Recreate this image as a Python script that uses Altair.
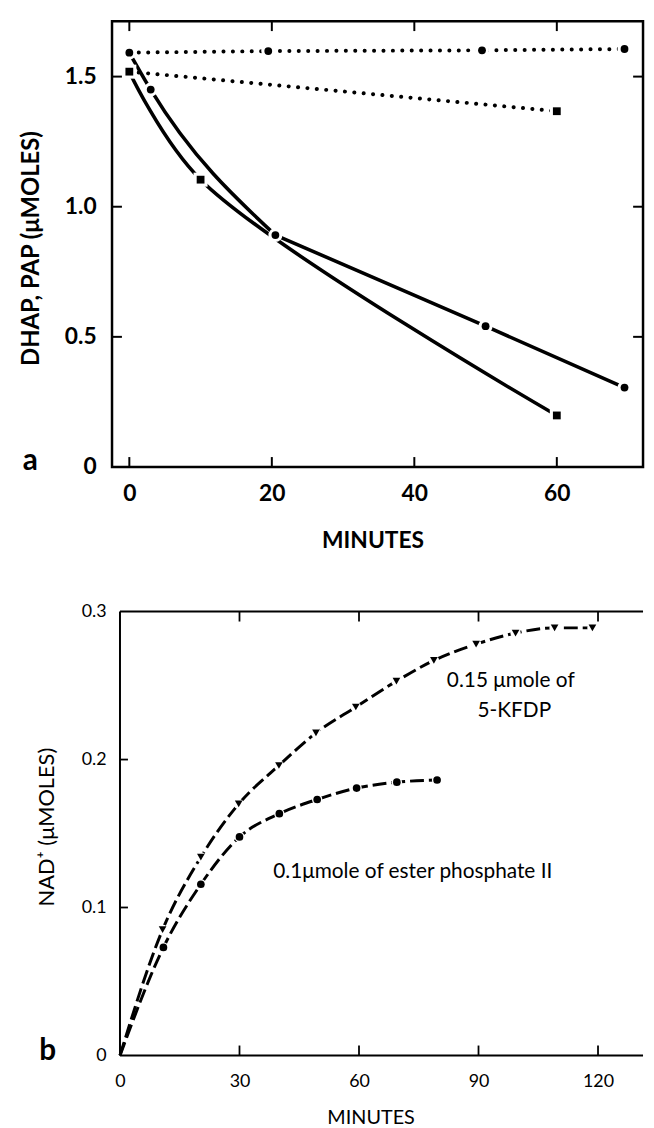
import altair as alt
import pandas as pd

# ---------------- Panel a data ----------------
a_dot_circle_min = [0, 19.5, 49.5, 69.5]
a_dot_circle_val = [1.592, 1.598, 1.601, 1.606]
a_dot_square_min = [0, 60]
a_dot_square_val = [1.519, 1.367]
a_solid_circle_min = [0, 3, 20.5, 50, 69.5]
a_solid_circle_val = [1.592, 1.450, 0.891, 0.541, 0.305]
a_solid_square_min = [0, 10, 60]
a_solid_square_val = [1.519, 1.104, 0.198]
a_x_ticks = [0, 20, 40, 60]
a_y_ticks = [0, 0.5, 1.0, 1.5]

# ---------------- Panel b data ----------------
b_kfdp_min = [0, 10.7, 20.3, 29.8, 39.9, 49.2, 59.2, 69.4, 78.8, 89.4, 99.3, 109.1, 118.6]
b_kfdp_val = [0, 0.085, 0.134, 0.170, 0.196, 0.218, 0.2355, 0.253, 0.267, 0.278, 0.2855, 0.289, 0.289]
b_ester_min = [0, 10.9, 20.3, 30.0, 40.0, 49.5, 59.4, 69.5, 79.6]
b_ester_val = [0, 0.073, 0.1157, 0.1477, 0.1634, 0.173, 0.1807, 0.1847, 0.1862]
b_x_ticks = [0, 30, 60, 90, 120]
b_y_ticks = [0, 0.1, 0.2, 0.3]

# ---------------- Texts ----------------
x_title = "MINUTES"
a_y_title = "DHAP, PAP (\u03bcMOLES)"
b_y_title = "NAD\u207a  (\u03bcMOLES)"
b_note_texts = ["0.15 \u03bcmole  of", "5-KFDP", "0.1\u03bcmole of ester phosphate  II"]
b_note_min = [98.1, 99.0, 73.5]
b_note_val = [0.253, 0.233, 0.124]

# ---------------- Layout ----------------
W = 536
HA = 450
HB = 448
A_XDOM = [-2.43, 72.1]
A_YDOM = [0, 1.713]
B_XDOM = [-2.0, 131.3]
B_YDOM = [0, 0.3]
FONT = "Lato"


def series(mins, vals, name, marker, style):
    return pd.DataFrame({"minutes": mins, "value": vals, "series": name,
                         "marker": marker, "style": style})


shape_enc = alt.Shape("marker:N", scale=alt.Scale(domain=["circle", "square", "triangle-down"],
                                                   range=["circle", "square", "triangle-down"]),
                      legend=None)

# ================= Panel a =================
df_a = pd.concat([
    series(a_dot_circle_min, a_dot_circle_val, "dc", "circle", "dotted"),
    series(a_dot_square_min, a_dot_square_val, "ds", "square", "dotted"),
    series(a_solid_circle_min, a_solid_circle_val, "sc", "circle", "solid"),
    series(a_solid_square_min, a_solid_square_val, "ss", "square", "solid"),
], ignore_index=True)
df_a_pts = df_a[["minutes", "value", "marker"]].drop_duplicates()

ax_scale = alt.Scale(domain=A_XDOM, nice=False, zero=False)
ay_scale = alt.Scale(domain=A_YDOM, nice=False, zero=False)

xa = alt.X("minutes:Q", scale=ax_scale, title=x_title, axis=alt.Axis(
    values=a_x_ticks, title=x_title, ticks=False, domain=False, grid=False,
    labelFont=FONT, labelFontSize=23, labelFontWeight="bold", labelColor="black",
    labelPadding=16, titleFont=FONT, titleFontSize=23, titleFontWeight="bold",
    titleColor="black", titleX=263, titleY=81, titleAlign="center",
    titleBaseline="alphabetic"))
ya = alt.Y("value:Q", scale=ay_scale, title=a_y_title, axis=alt.Axis(
    values=a_y_ticks, title=a_y_title, ticks=False, domain=False, grid=False,
    labelExpr="datum.value == 0 ? '0' : format(datum.value, '.1f')",
    labelFont=FONT, labelFontSize=23, labelFontWeight="bold", labelColor="black",
    labelPadding=16, titleFont=FONT, titleFontSize=24, titleFontWeight="bold",
    titleColor="black", titleX=-81, titleY=229, titleAngle=270,
    titleAlign="center", titleBaseline="middle"))
xa_n = alt.X("minutes:Q", scale=ax_scale, title=x_title)
ya_n = alt.Y("value:Q", scale=ay_scale, title=a_y_title)

a_dotted = alt.Chart(df_a).transform_filter("datum.style == 'dotted'").mark_line(
    color="black", strokeWidth=4, strokeDash=[0.1, 9.4], strokeCap="round"
).encode(x=xa, y=ya, detail="series:N")
# upper solid curve: curved start, straight after the 20-min point
a_solid_c1 = alt.Chart(df_a).transform_filter(
    "datum.series == 'sc' && datum.minutes <= 20.5").mark_line(
    color="black", strokeWidth=3.6, interpolate="monotone").encode(x=xa_n, y=ya_n)
a_solid_c2 = alt.Chart(df_a).transform_filter(
    "datum.series == 'sc' && datum.minutes >= 20.5").mark_line(
    color="black", strokeWidth=3.6).encode(x=xa_n, y=ya_n)
a_solid_s = alt.Chart(df_a).transform_filter("datum.series == 'ss'").mark_line(
    color="black", strokeWidth=3.6, interpolate="catmull-rom").encode(x=xa_n, y=ya_n)
a_halo = alt.Chart(df_a_pts).mark_point(filled=True, color="white", opacity=1, size=200).encode(
    x=xa_n, y=ya_n, shape=shape_enc)
a_marks = alt.Chart(df_a_pts).mark_point(filled=True, color="black", opacity=1, size=62).encode(
    x=xa_n, y=ya_n, shape=shape_enc)

axt = pd.DataFrame({"t": a_x_ticks})
ayt = pd.DataFrame({"t": [v for v in a_y_ticks if v > 0]})
axt_enc = alt.X("t:Q", scale=ax_scale, title=x_title)
ayt_enc = alt.Y("t:Q", scale=ay_scale, title=a_y_title)
a_tick_b = alt.Chart(axt).mark_rule(color="black", strokeWidth=2).encode(
    x=axt_enc, y=alt.value(HA), y2=alt.value(HA - 10))
a_tick_t = alt.Chart(axt).mark_rule(color="black", strokeWidth=2).encode(
    x=axt_enc, y=alt.value(0), y2=alt.value(10))
a_tick_l = alt.Chart(ayt).mark_rule(color="black", strokeWidth=2).encode(
    y=ayt_enc, x=alt.value(0), x2=alt.value(10))
a_tick_r = alt.Chart(ayt).mark_rule(color="black", strokeWidth=2).encode(
    y=ayt_enc, x=alt.value(W), x2=alt.value(W - 10))
a_letter = alt.Chart(pd.DataFrame({"lab": ["a"]})).mark_text(
    font=FONT, fontSize=30, fontWeight="bold", align="center", baseline="alphabetic",
    color="black").encode(x=alt.value(-82.5), y=alt.value(452.7), text="lab:N")

top = alt.layer(a_dotted, a_solid_c1, a_solid_c2, a_solid_s, a_halo, a_marks,
                a_tick_b, a_tick_t, a_tick_l, a_tick_r, a_letter).properties(
    width=W, height=HA,
    view=alt.ViewBackground(stroke="black", strokeWidth=2.5))

# ================= Panel b =================
df_b = pd.concat([
    series(b_kfdp_min, b_kfdp_val, "kfdp", "triangle-down", "dashed"),
    series(b_ester_min, b_ester_val, "ester", "circle", "dashed"),
], ignore_index=True)
df_b_pts = df_b[df_b["minutes"] > 0]

bx_scale = alt.Scale(domain=B_XDOM, nice=False, zero=False)
by_scale = alt.Scale(domain=B_YDOM, nice=False, zero=False)
xb = alt.X("minutes:Q", scale=bx_scale, title=x_title, axis=alt.Axis(
    values=b_x_ticks, title=x_title, ticks=False, domain=False, grid=False,
    labelFont=FONT, labelFontSize=18, labelColor="black", labelPadding=17,
    titleFont=FONT, titleFontSize=20, titleFontWeight="normal", titleColor="black",
    titleX=261, titleY=69, titleAlign="center", titleBaseline="alphabetic"))
yb = alt.Y("value:Q", scale=by_scale, title=b_y_title, axis=alt.Axis(
    values=b_y_ticks, title=b_y_title, ticks=False, domain=False, grid=False,
    labelExpr="datum.value == 0 ? '0' : format(datum.value, '.1f')",
    labelFont=FONT, labelFontSize=18, labelColor="black", labelPadding=6,
    titleFont=FONT, titleFontSize=22, titleFontWeight="normal", titleColor="black",
    titleX=-66, titleY=217, titleAngle=270, titleAlign="center", titleBaseline="middle"))
xb_n = alt.X("minutes:Q", scale=bx_scale, title=x_title)
yb_n = alt.Y("value:Q", scale=by_scale, title=b_y_title)

b_lines = alt.Chart(df_b).mark_line(
    color="black", strokeWidth=3, strokeDash=[14, 5], interpolate="monotone"
).encode(x=xb, y=yb, detail="series:N")
b_halo = alt.Chart(df_b_pts).mark_point(
    filled=True, color="white", opacity=1, size=110, shape="circle").encode(x=xb_n, y=yb_n)
b_marks = alt.Chart(df_b_pts).mark_point(
    filled=True, color="black", opacity=1, size=60, strokeWidth=0).encode(
    x=xb_n, y=yb_n, shape=shape_enc)

one = pd.DataFrame({"k": [0]})
bx_d = alt.X(datum=0, scale=bx_scale, title=x_title)
b_frame_l = alt.Chart(one).mark_rule(color="black", strokeWidth=2).encode(
    x=bx_d, y=alt.Y(datum=B_YDOM[0], scale=by_scale, title=b_y_title),
    y2=alt.Y2(datum=B_YDOM[1]))
b_frame_b = alt.Chart(one).mark_rule(color="black", strokeWidth=2).encode(
    y=alt.Y(datum=B_YDOM[0], scale=by_scale, title=b_y_title), x=bx_d,
    x2=alt.X2(datum=B_XDOM[1]))
b_frame_t = alt.Chart(one).mark_rule(color="black", strokeWidth=2).encode(
    y=alt.Y(datum=B_YDOM[1], scale=by_scale, title=b_y_title), x=bx_d,
    x2=alt.X2(datum=B_XDOM[1]))

bxt = pd.DataFrame({"t": [v for v in b_x_ticks if v > 0]})
byt = pd.DataFrame({"t": [v for v in b_y_ticks if 0 < v < B_YDOM[1]]})
bxt_enc = alt.X("t:Q", scale=bx_scale, title=x_title)
byt_enc = alt.Y("t:Q", scale=by_scale, title=b_y_title)
b_tick_b = alt.Chart(bxt).mark_rule(color="black", strokeWidth=1.8).encode(
    x=bxt_enc, y=alt.value(HB), y2=alt.value(HB - 10))
b_tick_t = alt.Chart(bxt).mark_rule(color="black", strokeWidth=1.8).encode(
    x=bxt_enc, y=alt.value(0), y2=alt.value(10))
b_tick_l = alt.Chart(byt).mark_rule(color="black", strokeWidth=1.8).encode(
    y=byt_enc, x=bx_d, x2=alt.X2(datum=2.0))

df_notes = pd.DataFrame({"minutes": b_note_min, "value": b_note_val, "txt": b_note_texts})
b_notes = alt.Chart(df_notes).mark_text(
    font=FONT, fontSize=21, color="black", align="center", baseline="middle"
).encode(x=xb_n, y=yb_n, text="txt:N")
b_letter = alt.Chart(pd.DataFrame({"lab": ["b"]})).mark_text(
    font=FONT, fontSize=30, fontWeight="bold", align="center", baseline="alphabetic",
    color="black").encode(x=alt.value(-65), y=alt.value(453), text="lab:N")

bottom = alt.layer(b_lines, b_halo, b_marks, b_frame_l, b_frame_b, b_frame_t,
                   b_tick_b, b_tick_t, b_tick_l, b_notes, b_letter).properties(
    width=W, height=HB)

chart = alt.vconcat(top, bottom, spacing=146, bounds="flush").properties(
    padding={"left": 10, "top": 5, "right": 0, "bottom": 0}
).configure_view(stroke=None)

chart.save("out.html", embed_options={"renderer": "svg", "actions": False})
